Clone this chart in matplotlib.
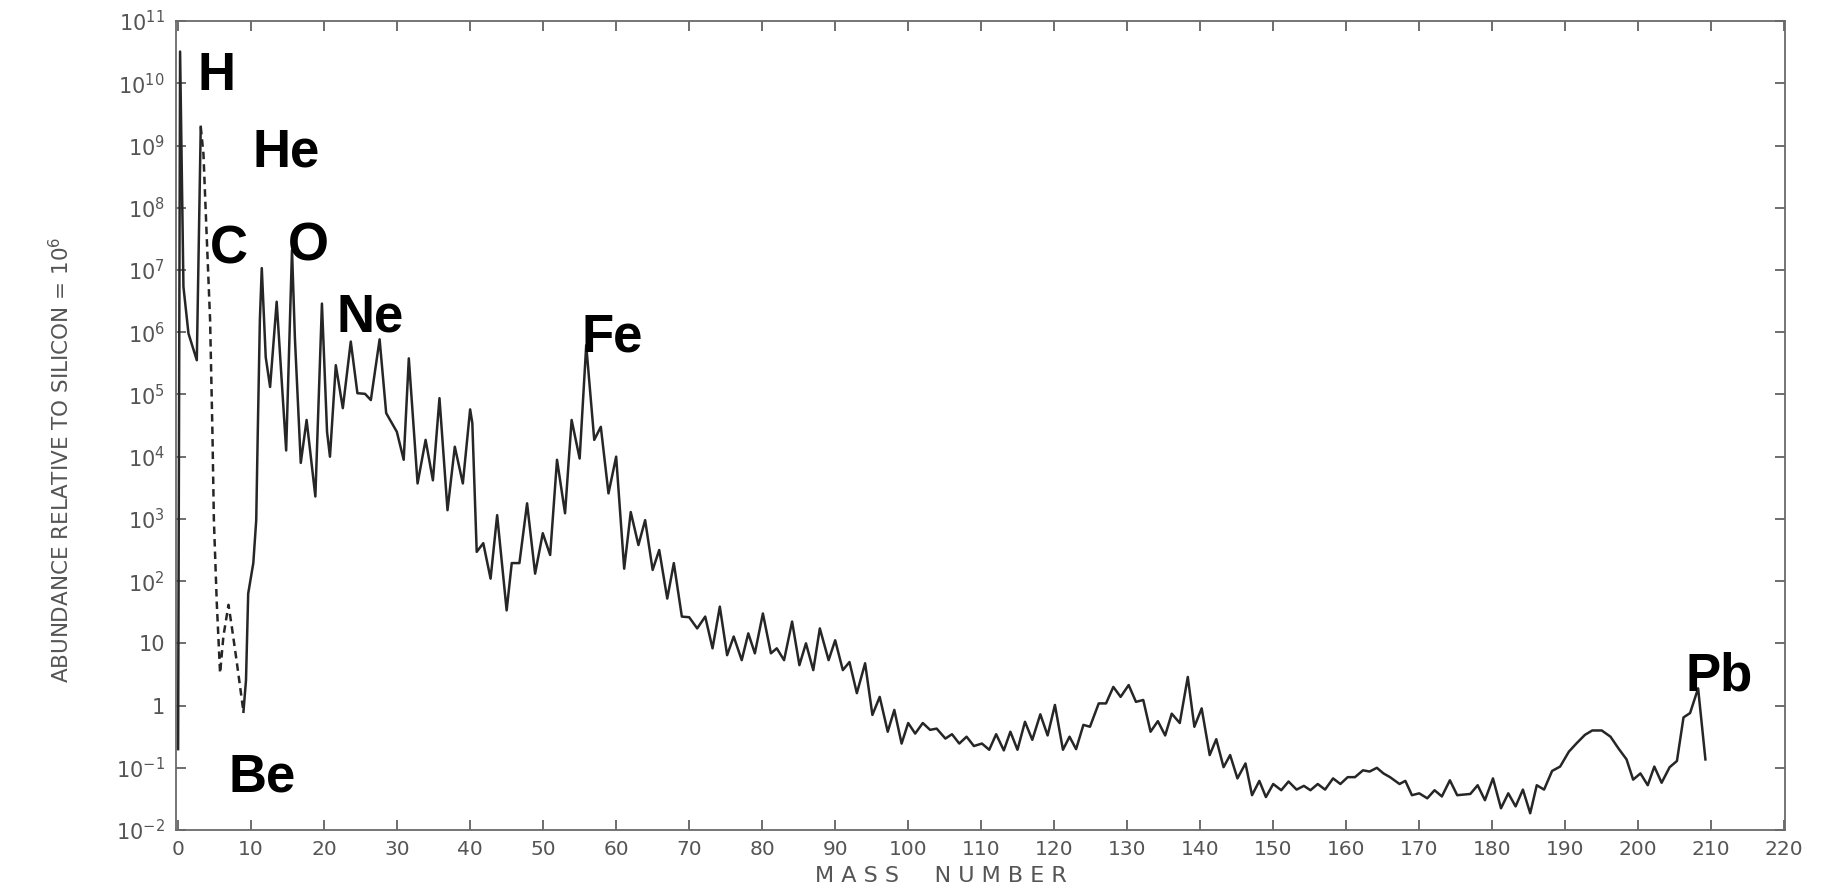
import numpy as np
import matplotlib.pyplot as plt

plt.rcParams.update({'font.family': 'DejaVu Sans'})

# H / D part of the curve (solid), mass number and log10 of abundance
h_mass = [0.0, 0.27, 0.73, 1.42, 2.56, 3.1]
h_log = [-0.7, 10.51, 6.73, 5.98, 5.55, 9.30]

# He -> Be part (dashed)
he_mass = [3.1, 3.47, 3.9, 4.38, 4.7, 4.9, 5.3, 5.75, 6.2, 6.9, 7.35, 8.0, 8.95]
he_log = [9.30, 8.87, 7.59, 6.2, 4.4, 2.98, 1.64, 0.52, 1.11, 1.62, 1.27, 0.73, -0.10]

# main curve from B up to Bi
mass = [8.95, 9.3, 9.6, 10.3, 10.7, 10.9, 11.2, 11.46, 12.0, 12.6, 13.5, 14.8, 15.6, 16.0, 16.8,
        17.6, 18.8, 19.7, 20.4, 20.8, 21.6, 22.56, 23.65, 24.56, 25.6, 26.4, 27.6, 28.5, 29.96,
        30.9, 31.6, 32.8, 33.9, 34.9, 35.8, 36.9, 37.9, 39.0, 40.0, 40.3, 40.9, 41.8, 42.8, 43.7,
        45.0, 45.7, 46.75, 47.8, 48.9, 49.95, 50.96, 51.9, 53.0, 53.9, 55.0, 55.9, 57.0, 57.9,
        58.95, 60.0, 61.1, 62.0, 63.05, 63.97, 65.0, 65.9, 67.0, 67.9, 69.0, 70.0, 71.1, 72.2,
        73.2, 74.2, 75.2, 76.1, 77.2, 78.1, 79.0, 80.1, 81.2, 82.0, 83.0, 84.1, 85.1, 86.0, 87.0,
        87.9, 89.1, 90.0, 91.05, 91.96, 92.97, 94.1, 95.1, 96.1, 97.2, 98.1, 99.1, 100.0, 100.96,
        102.0, 103.0, 103.9, 105.1, 106.0, 107.0, 108.0, 109.0, 110.1, 111.1, 112.05, 113.1,
        114.0, 114.97, 116.0, 117.0, 118.1, 119.1, 120.1, 121.2, 122.1, 123.0, 124.0, 124.9,
        126.1, 127.1, 128.1, 129.1, 130.2, 131.2, 132.2, 133.2, 134.2, 135.2, 136.1, 137.2,
        138.3, 139.2, 140.2, 141.3, 142.2, 143.2, 144.1, 145.1, 146.2, 147.1, 148.1, 149.0,
        150.0, 151.1, 152.1, 153.2, 154.2, 155.1, 156.1, 157.1, 158.2, 159.2, 160.2, 161.2,
        162.3, 163.2, 164.2, 165.1, 166.0, 167.3, 168.1, 169.0, 170.0, 171.1, 172.1, 173.1,
        174.2, 175.2, 177.0, 178.0, 179.0, 180.1, 181.2, 182.2, 183.2, 184.2, 185.2, 186.1,
        187.1, 188.2, 189.3, 190.5, 191.6, 192.7, 193.7, 195.0, 196.2, 197.3, 198.4, 199.3,
        200.3, 201.3, 202.2, 203.2, 204.3, 205.3, 206.2, 207.1, 208.2, 209.2]
log_abund = [-0.10, 0.41, 1.8, 2.29, 2.98, 4.32, 6.2, 7.03, 5.6, 5.12, 6.49, 4.1, 7.32, 5.9, 3.9,
             4.59, 3.36, 6.46, 4.4, 4.0, 5.47, 4.78, 5.85, 5.02, 5.01, 4.91, 5.885, 4.70, 4.40,
             3.95, 5.58, 3.57, 4.27, 3.62, 4.94, 3.14, 4.16, 3.57, 4.76, 4.54, 2.47, 2.61, 2.04, 3.06,
             1.53, 2.29, 2.29, 3.25, 2.12, 2.77, 2.42, 3.95, 3.09, 4.59, 3.97, 5.79, 4.27, 4.48,
             3.41, 4.0, 2.2, 3.11, 2.58, 2.98, 2.18, 2.5, 1.72, 2.29, 1.43, 1.42, 1.24, 1.43,
             0.92, 1.59, 0.81, 1.11, 0.73, 1.16, 0.84, 1.48, 0.84, 0.92, 0.73, 1.35, 0.65, 1.0, 0.57,
             1.24, 0.73, 1.05, 0.57, 0.70, 0.20, 0.68, -0.15, 0.14, -0.42, -0.07, -0.61, -0.28, -0.45,
             -0.28, -0.39, -0.37, -0.53, -0.46, -0.61, -0.50, -0.65, -0.61, -0.71, -0.46, -0.72,
             -0.42, -0.71, -0.26, -0.55, -0.14, -0.48, 0.01, -0.71, -0.50, -0.70, -0.31, -0.34,
             0.035, 0.035, 0.30, 0.14, 0.33, 0.06, 0.09, -0.42, -0.25, -0.48, -0.13, -0.28,
             0.46, -0.34, -0.045, -0.795, -0.54, -0.99, -0.795, -1.17, -0.93, -1.44, -1.21, -1.47,
             -1.26, -1.36, -1.22, -1.35, -1.29, -1.36, -1.26, -1.35, -1.17, -1.26, -1.15, -1.15,
             -1.04, -1.06, -1.0, -1.09, -1.15, -1.26, -1.21, -1.44, -1.41, -1.49, -1.36, -1.46,
             -1.20, -1.44, -1.42, -1.28, -1.52, -1.17, -1.65, -1.41, -1.62, -1.35, -1.73, -1.28,
             -1.35, -1.05, -0.98, -0.74, -0.60, -0.47, -0.40, -0.40, -0.50, -0.69, -0.865, -1.19,
             -1.09, -1.28, -0.98, -1.24, -0.99, -0.89, -0.19, -0.12, 0.277, -0.865]

# element labels: name, mass position, log10 of baseline
elements = ['H', 'He', 'C', 'O', 'Ne', 'Fe', 'Be', 'Pb']
elem_x = [2.6, 10.2, 4.4, 15.0, 21.7, 55.25, 6.85, 206.5]
elem_y = [9.89, 8.66, 7.1, 7.16, 6.01, 5.69, -1.385, 0.25]

ytick_pow = list(range(-2, 12))
ytick_labels = [r'$\mathregular{10^{-2}}$', r'$\mathregular{10^{-1}}$', '1', '10'] + \
               [r'$\mathregular{10^{%d}}$' % p for p in range(2, 12)]
xticks = list(range(0, 230, 10))

fig = plt.figure(figsize=(18.44, 8.93), dpi=100)
ax = fig.add_axes([0.0954, 0.0705, 0.8726, 0.9059])

line_col = '#262626'
ax.plot(h_mass, np.power(10.0, h_log), '-', color=line_col, lw=1.8)
ax.plot(he_mass, np.power(10.0, he_log), '--', color=line_col, lw=1.8, dashes=(3, 2))
ax.plot(mass, np.power(10.0, log_abund), '-', color=line_col, lw=1.8)

ax.set_yscale('log')
ax.set_xlim(-0.3, 220.1)
ax.set_ylim(1e-2, 1e11)

grey = '#555555'
ax.set_yticks([10.0 ** p for p in ytick_pow])
ax.set_yticklabels(ytick_labels)
ax.yaxis.set_minor_locator(plt.NullLocator())
ax.set_xticks(xticks)
ax.set_xticklabels([str(t) for t in xticks])
ax.tick_params(which='both', direction='in', top=True, right=True, colors=grey,
               length=7, width=1.2)
ax.tick_params(axis='y', pad=8, labelsize=15)
ax.tick_params(axis='x', pad=7, labelsize=14.5)
for s in ax.spines.values():
    s.set_color('#6a6a6a')
    s.set_linewidth(1.3)

fig.text(0.033, 0.485, r'ABUNDANCE RELATIVE TO SILICON = $\mathregular{10^6}$', rotation=90,
         ha='center', va='center', fontsize=15.5, color=grey)
fig.text(0.510, 0.019, 'M A S S     N U M B E R', ha='center', va='center',
         fontsize=16, color=grey)

for name, x, y in zip(elements, elem_x, elem_y):
    ax.text(x, 10.0 ** y, name, ha='left', va='baseline', fontsize=38,
            fontweight='bold', family='Liberation Sans', color='black')

fig.savefig('out.png', dpi=100)
